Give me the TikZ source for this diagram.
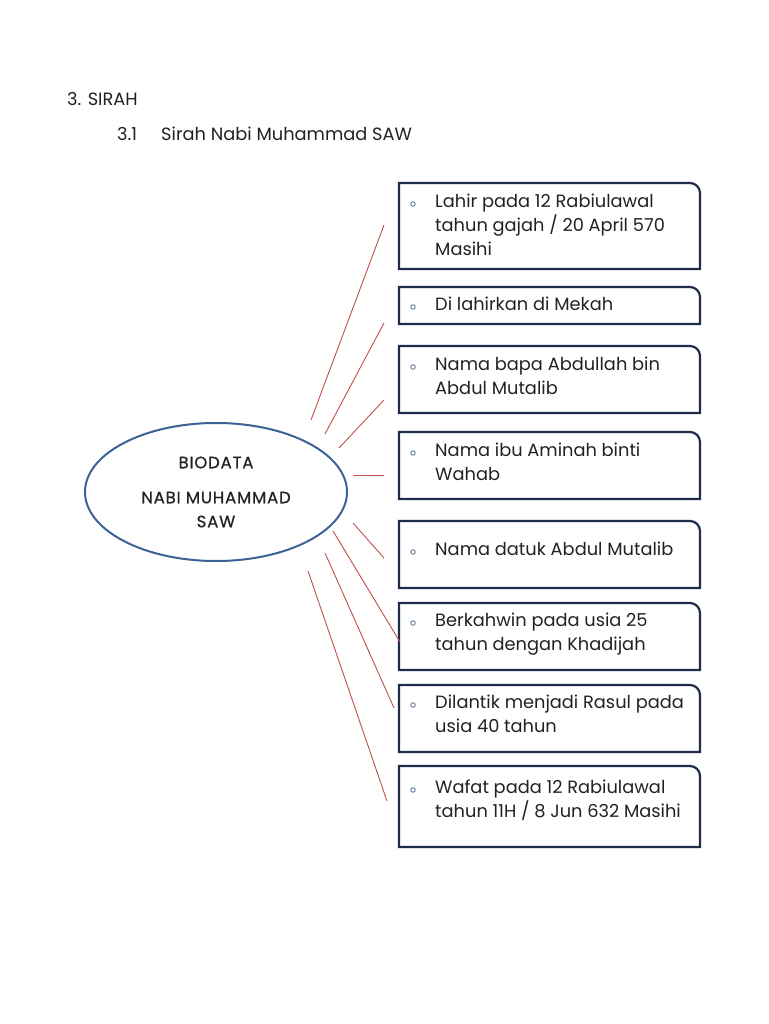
\documentclass[tikz,border=0pt]{standalone}
\usepackage{fontspec}
\setmainfont{Poppins}
\newfontfamily\spacedfont[LetterSpace=5,FakeBold=0.6]{Poppins}
\usetikzlibrary{shapes.geometric}
\definecolor{boxline}{HTML}{1F2D4A}
\definecolor{ellline}{HTML}{3B6496}
\definecolor{redline}{HTML}{C0504D}
\definecolor{bulletc}{HTML}{4A6A90}
\definecolor{txt}{HTML}{222222}
\tikzset{
  boxnode/.style={anchor=north west, minimum width=301, inner sep=0, outer sep=0},
  boxtext/.style={anchor=base west, align=left, inner sep=0, text=txt, font=\fontsize{17.8}{24}\selectfont},
  bulletdot/.style={circle, draw=bulletc, line width=0.8pt, minimum size=4.5, inner sep=0},
  outline/.style={draw=boxline, line width=2.2pt},
  spoke/.style={draw=redline, line width=0.9pt},
  bioell/.style={ellipse, draw=ellline, line width=2pt, minimum width=262, minimum height=138, align=center, text=txt, font=\spacedfont\fontsize{16.5}{24}\selectfont},
  heading/.style={anchor=base west, inner sep=0, text=txt, font=\fontsize{17.8}{20}\selectfont}
}
\newcommand{\cornerbox}[1]{%
  \draw[outline] (#1.south west) -- (#1.north west) -- ([xshift=-10pt]#1.north east)
    arc[start angle=90, end angle=0, radius=10pt] -- (#1.south east) -- cycle;}
\begin{document}
\begin{tikzpicture}[x=1pt,y=-1pt]
\useasboundingbox[fill=white] (0,0) rectangle (768,1024);
% headings
\node[heading] (h1) at (67,106) {3. SIRAH};
\node[heading] (h2a) at (117,141) {3.1};
\node[heading] (h2b) at (161,141) {Sirah Nabi Muhammad SAW};
% ellipse
\node[bioell] (bio) at (216,492) {BIODATA\\[11pt]NABI MUHAMMAD\\SAW};
% boxes
\node[boxnode, minimum height=86] (b1) at (399,183) {};
\node[boxnode, minimum height=37] (b2) at (399,287) {};
\node[boxnode, minimum height=67] (b3) at (399,346) {};
\node[boxnode, minimum height=67] (b4) at (399,432) {};
\node[boxnode, minimum height=67] (b5) at (399,521) {};
\node[boxnode, minimum height=67] (b6) at (399,603) {};
\node[boxnode, minimum height=67] (b7) at (399,685) {};
\node[boxnode, minimum height=81] (b8) at (399,766) {};
\foreach \b in {b1,b2,b3,b4,b5,b6,b7,b8}{\cornerbox{\b}}
% texts (anchor = baseline of last line)
\node[boxtext] (t1) at (435,255) {Lahir pada 12 Rabiulawal\\tahun gajah / 20 April 570\\Masihi};
\node[boxtext] (t2) at (435,310) {Di lahirkan di Mekah};
\node[boxtext] (t3) at (435,394) {Nama bapa Abdullah bin\\Abdul Mutalib};
\node[boxtext] (t4) at (435,480) {Nama ibu Aminah binti\\Wahab};
\node[boxtext] (t5) at (435,555) {Nama datuk Abdul Mutalib};
\node[boxtext] (t6) at (435,650) {Berkahwin pada usia 25\\tahun dengan Khadijah};
\node[boxtext] (t7) at (435,732) {Dilantik menjadi Rasul pada\\usia 40 tahun};
\node[boxtext] (t8) at (435,817) {Wafat pada 12 Rabiulawal\\tahun 11H / 8 Jun 632 Masihi};
% bullets
\node[bulletdot] (d1) at (413,204) {};
\node[bulletdot] (d2) at (413,307) {};
\node[bulletdot] (d3) at (413,367) {};
\node[bulletdot] (d4) at (413,453) {};
\node[bulletdot] (d5) at (413,552) {};
\node[bulletdot] (d6) at (413,623) {};
\node[bulletdot] (d7) at (413,705) {};
\node[bulletdot] (d8) at (413,790) {};
% spokes
\coordinate (s1) at (311,420); \coordinate (e1) at (384,225);
\coordinate (s2) at (325,434); \coordinate (e2) at (384,323);
\coordinate (s3) at (339,448); \coordinate (e3) at (384,400);
\coordinate (s4) at (353,475); \coordinate (e4) at (384,475);
\coordinate (s5) at (353,523); \coordinate (e5) at (384,558);
\coordinate (s6) at (333,531); \coordinate (e6) at (400,642);
\coordinate (s7) at (325,553); \coordinate (e7) at (394,708);
\coordinate (s8) at (308,571); \coordinate (e8) at (387,801);
\foreach \i in {1,...,8}{\draw[spoke] (s\i) -- (e\i);}
\end{tikzpicture}
\end{document}
